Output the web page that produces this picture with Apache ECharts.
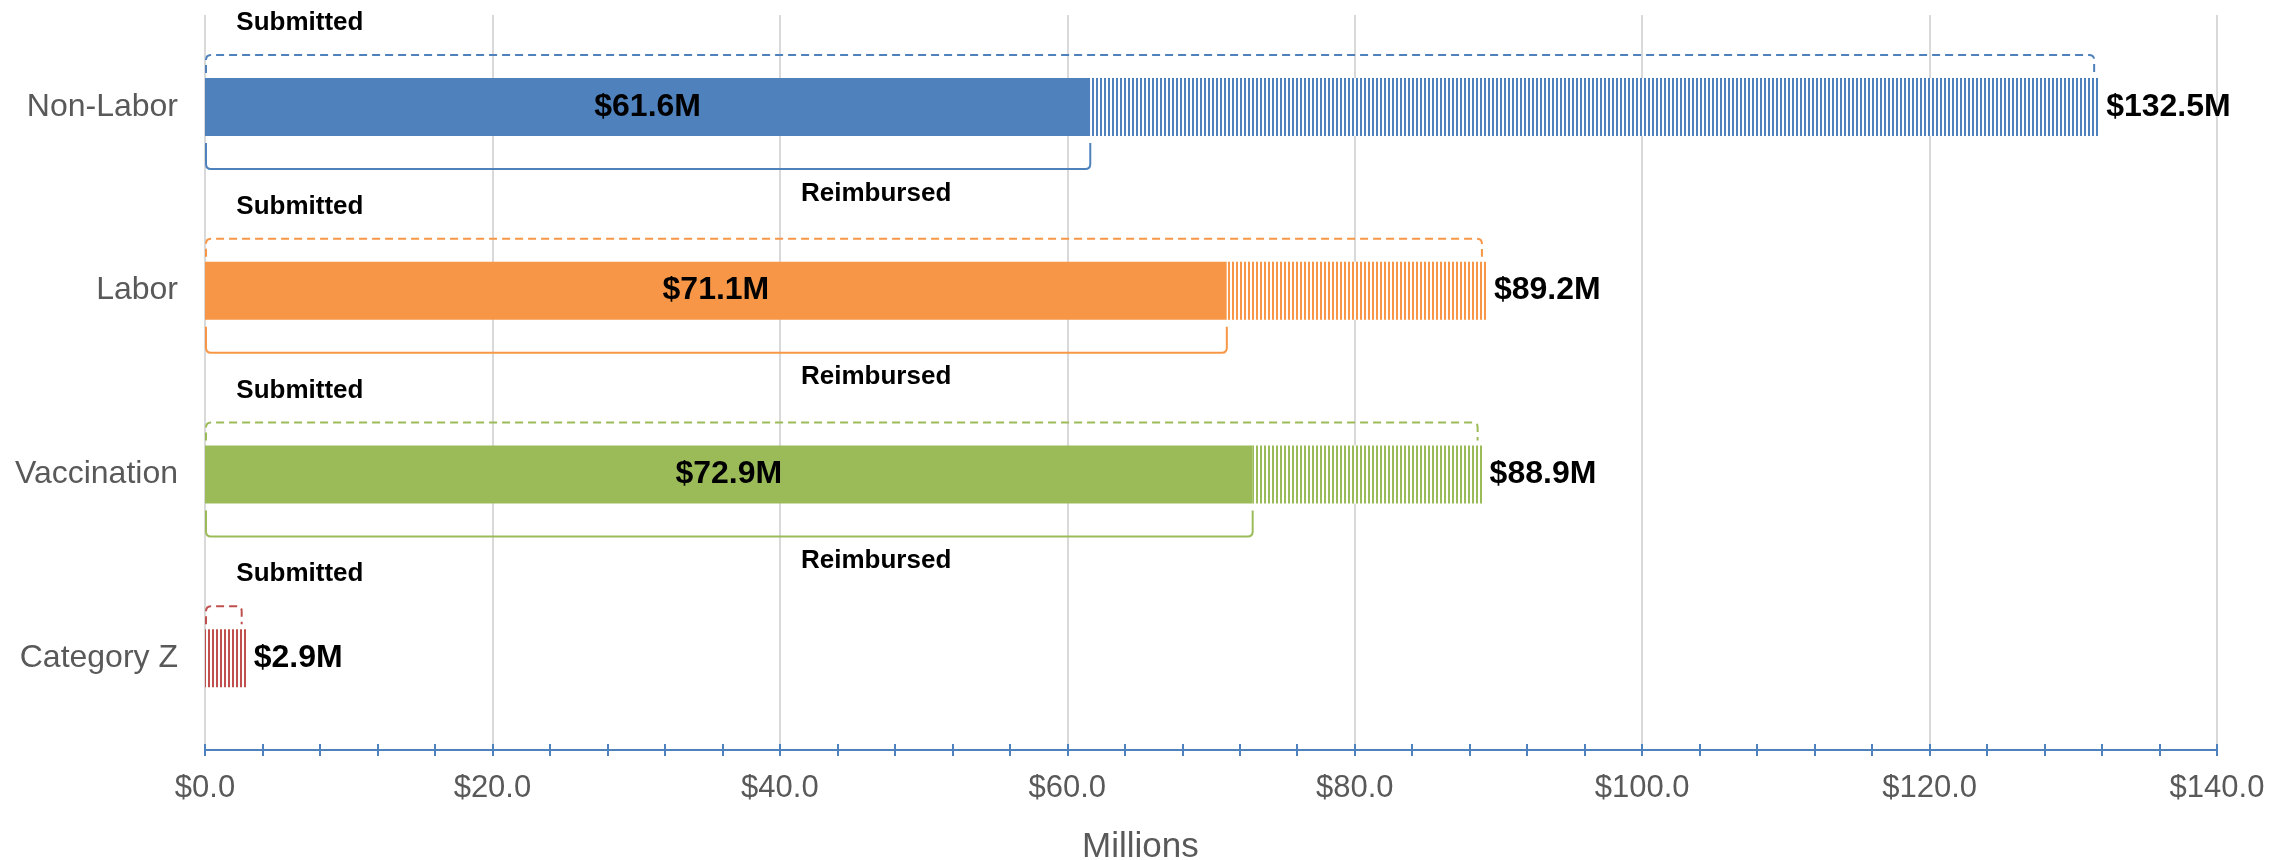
<!DOCTYPE html>
<html>
<head>
<meta charset="utf-8">
<script src="https://cdn.jsdelivr.net/npm/echarts@6/dist/echarts.min.js"></script>
<style>
  html, body { margin: 0; padding: 0; background: #fff; }
  #chart { width: 2292px; height: 860px; }
</style>
</head>
<body>
<div id="chart"></div>
<script>
// data (millions)
var categories = ['Non-Labor', 'Labor', 'Vaccination', 'Category Z'];
var reimbursed = [61.6, 71.1, 72.9, 0];
var submitted = [131.8, 89.2, 88.9, 2.9];
var submittedLabels = [132.5, 89.2, 88.9, 2.9];
var colors = ['#4F81BD', '#F79646', '#9BBB59', '#C0504D'];

var FONT = '"Liberation Sans", Arial, sans-serif';
var BAR_H = 58;

// vertical stripe fill for the not-yet-reimbursed part
function stripes(color) {
  var cv = document.createElement('canvas');
  cv.width = 4; cv.height = 8;
  var ctx = cv.getContext('2d');
  ctx.fillStyle = '#fff';
  ctx.fillRect(0, 0, 4, 8);
  ctx.fillStyle = color;
  ctx.fillRect(0, 0, 2, 8);
  return { image: cv, repeat: 'repeat' };
}

function money(v) { return '$' + v.toFixed(1) + 'M'; }

function renderBrackets(params, api) {
  var i = api.value(1);
  var sub = api.value(0), reim = api.value(2);
  var p0 = api.coord([0, i]);
  var c = p0[1], x0 = p0[0] + 1;
  var half = BAR_H / 2;
  var color = colors[i];
  var r = 5;
  var kids = [];

  // dashed "submitted" bracket above the bar
  var xs = api.coord([sub, i])[0] - 5;
  var yT = c - half - 23, yD = c - half - 5;
  kids.push({
    type: 'path',
    shape: { pathData: 'M' + x0 + ' ' + yD + ' L' + x0 + ' ' + (yT + r) + ' Q' + x0 + ' ' + yT + ' ' + (x0 + r) + ' ' + yT +
      ' L' + (xs - r) + ' ' + yT + ' Q' + xs + ' ' + yT + ' ' + xs + ' ' + (yT + r) + ' L' + xs + ' ' + yD },
    style: { stroke: color, fill: null, lineWidth: 2, lineDash: [8, 5] }
  });
  kids.push({
    type: 'text',
    style: { text: 'Submitted', x: api.coord([6.6, i])[0], y: c - 84, align: 'center', verticalAlign: 'middle',
      fontSize: 26, fontWeight: 'bold', fontFamily: FONT, fill: '#000' }
  });

  // solid "reimbursed" bracket below the bar
  if (reim > 0) {
    var xr = api.coord([reim, i])[0];
    var yA = c + half + 7, yB = c + half + 33;
    kids.push({
      type: 'path',
      shape: { pathData: 'M' + x0 + ' ' + yA + ' L' + x0 + ' ' + (yB - r) + ' Q' + x0 + ' ' + yB + ' ' + (x0 + r) + ' ' + yB +
        ' L' + (xr - r) + ' ' + yB + ' Q' + xr + ' ' + yB + ' ' + xr + ' ' + (yB - r) + ' L' + xr + ' ' + yA },
      style: { stroke: color, fill: null, lineWidth: 2 }
    });
    kids.push({
      type: 'text',
      style: { text: 'Reimbursed', x: api.coord([46.7, i])[0], y: c + 86.5, align: 'center', verticalAlign: 'middle',
        fontSize: 26, fontWeight: 'bold', fontFamily: FONT, fill: '#000' }
    });
  }
  return { type: 'group', children: kids };
}

var chart = echarts.init(document.getElementById('chart'));

var tickStyle = { color: '#4F81BD', width: 2 };

var option = {
  animation: false,
  grid: { left: 205, right: 75, top: 15, height: 735 },
  graphic: [{
    type: 'text', left: 1082, top: 830,
    style: { text: 'Millions', fill: '#595959', fontSize: 35, fontFamily: FONT }
  }],
  xAxis: [{
    type: 'value', min: 0, max: 140, interval: 20, position: 'bottom',
    axisLine: { show: true, lineStyle: { color: '#4F81BD', width: 2 } },
    axisTick: { show: true, length: 6, lineStyle: tickStyle },
    minorTick: { show: true, splitNumber: 5, length: 6, lineStyle: tickStyle },
    splitLine: { show: true, lineStyle: { color: '#D9D9D9', width: 2 } },
    axisLabel: { formatter: function (v) { return '$' + v.toFixed(1); }, color: '#595959', fontSize: 31, fontFamily: FONT, margin: 23 }
  }, {
    // second copy so the ticks cross the axis line
    type: 'value', min: 0, max: 140, interval: 20, position: 'bottom',
    axisLine: { show: false },
    axisTick: { show: true, inside: true, length: 6, lineStyle: tickStyle },
    minorTick: { show: true, splitNumber: 5, length: 6, lineStyle: tickStyle },
    splitLine: { show: false },
    axisLabel: { show: false }
  }],
  yAxis: {
    type: 'category', inverse: true, data: categories,
    axisLine: { show: false }, axisTick: { show: false },
    axisLabel: { color: '#595959', fontSize: 32, fontFamily: FONT, margin: 27 }
  },
  series: [{
    name: 'Reimbursed', type: 'bar', stack: 'total', barWidth: BAR_H,
    data: reimbursed.map(function (v, i) { return { value: v, itemStyle: { color: colors[i] } }; }),
    label: {
      show: true, position: 'inside', color: '#000', fontSize: 32, fontWeight: 'bold', fontFamily: FONT,
      formatter: function (p) { return p.value > 0 ? money(p.value) : ''; }
    }
  }, {
    name: 'Submitted', type: 'bar', stack: 'total', barWidth: BAR_H,
    data: submitted.map(function (v, i) { return { value: +(v - reimbursed[i]).toFixed(1), itemStyle: { color: stripes(colors[i]) } }; }),
    label: {
      show: true, position: 'right', distance: 7, color: '#000', fontSize: 32, fontWeight: 'bold', fontFamily: FONT,
      formatter: function (p) { return money(submittedLabels[p.dataIndex]); }
    }
  }, {
    name: 'Brackets', type: 'custom', renderItem: renderBrackets, xAxisIndex: 0,
    encode: { x: 0, y: 1 },
    data: categories.map(function (c, i) { return [submitted[i], i, reimbursed[i]]; }),
    z: 3
  }]
};

chart.setOption(option);
window.addEventListener('resize', chart.resize);
</script>
</body>
</html>
